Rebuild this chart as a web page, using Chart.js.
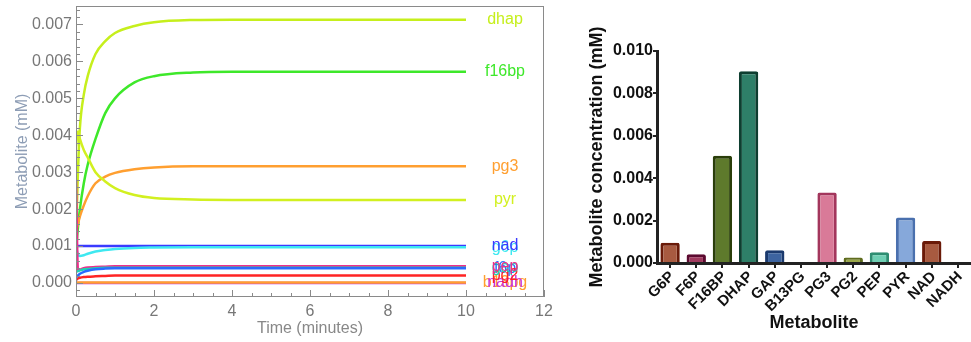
<!DOCTYPE html>
<html>
<head>
<meta charset="utf-8">
<script src="https://cdn.jsdelivr.net/npm/chart.js@4.4.1/dist/chart.umd.min.js"></script>
<style>
  body { margin: 0; background: #fff; }
  #wrap { display: flex; width: 971px; height: 342px; }
  canvas { display: block; }
</style>
</head>
<body>
<div id="wrap">
  <canvas id="timeChart" width="560" height="342"></canvas>
  <canvas id="barChart" width="411" height="342"></canvas>
</div>
<script>
// Time course (left)
const timeMin = [0, 0.05, 0.1, 0.2, 0.3, 0.5, 0.75, 1, 1.5, 2, 3, 4, 6, 8, 10];

const dhap  = [0.0012, 0.0030, 0.0042, 0.0051, 0.0056, 0.0062, 0.00655, 0.00677, 0.00696, 0.00706, 0.00712, 0.00713, 0.00713, 0.00713, 0.00713];
const f16bp = [0.0009, 0.0015, 0.0020, 0.0027, 0.0032, 0.0039, 0.0046, 0.0050, 0.00543, 0.0056, 0.0057, 0.00572, 0.00572, 0.00572, 0.00572];
const pg3   = [0.0014, 0.0016, 0.0018, 0.0021, 0.00235, 0.0027, 0.00288, 0.00298, 0.00308, 0.00313, 0.00316, 0.00316, 0.00316, 0.00316, 0.00316];
const pyr   = [0.0037, 0.0041, 0.0039, 0.0036, 0.0034, 0.0030, 0.00275, 0.00257, 0.00238, 0.0023, 0.00226, 0.00225, 0.00225, 0.00225, 0.00225];
const nad   = [0.001, 0.001, 0.001, 0.001, 0.001, 0.001, 0.001, 0.001, 0.001, 0.001, 0.001, 0.001, 0.001, 0.001, 0.001];
const g6p   = [0.00098, 0.00078, 0.00073, 0.00075, 0.00079, 0.00085, 0.00089, 0.00092, 0.00095, 0.00096, 0.00097, 0.00097, 0.00097, 0.00097, 0.00097];
const pep   = [0.0028, 0.00035, 0.00036, 0.0004, 0.00042, 0.00043, 0.00044, 0.00045, 0.00045, 0.00045, 0.00045, 0.00045, 0.00045, 0.00045, 0.00045];
const gap   = [0.0003, 0.00032, 0.00034, 0.00037, 0.00038, 0.0004, 0.00041, 0.00041, 0.00041, 0.00041, 0.00041, 0.00041, 0.00041, 0.00041, 0.00041];
const f6p   = [0.00015, 0.0002, 0.00025, 0.0003, 0.00033, 0.00037, 0.00039, 0.0004, 0.0004, 0.0004, 0.0004, 0.0004, 0.0004, 0.0004, 0.0004];
const pg2   = [0.00008, 0.00012, 0.00014, 0.00016, 0.00017, 0.00018, 0.00019, 0.0002, 0.0002, 0.0002, 0.0002, 0.0002, 0.0002, 0.0002, 0.0002];
const b13pg = [0.00001, 0.00001, 0.00001, 0.00001, 0.00001, 0.00001, 0.00001, 0.00001, 0.00001, 0.00001, 0.00001, 0.00001, 0.00001, 0.00001, 0.00001];
const nadh  = [0, 0, 0, 0, 0, 0, 0, 0, 0, 0, 0, 0, 0, 0, 0];

// Bar chart (right)
const metabolites = ['G6P', 'F6P', 'F16BP', 'DHAP', 'GAP', 'B13PG', 'PG3', 'PG2', 'PEP', 'PYR', 'NAD', 'NADH'];
const concentrations = [0.00095, 0.00041, 0.00506, 0.00904, 0.0006, 0, 0.00332, 0.00026, 0.00051, 0.00215, 0.00104, 0];
const barFill = ['#a85a40', '#a03a5e', '#5e7a2c', '#2e7f68', '#3d64a0', '#888888', '#d97a98', '#9aa84a', '#6fcfb4', '#86a8da', '#a85a40', '#888888'];
const barEdge = ['#6a1a08', '#5c0a30', '#2a3e0a', '#0e3e30', '#1b3a6e', '#444444', '#a3365c', '#5f6c1e', '#2e8e72', '#4a70ae', '#6a1a08', '#444444'];

Chart.defaults.font.family = '"Liberation Sans", Arial, sans-serif';

function series(name, values, color) {
  return {
    label: name,
    data: values.map((v, i) => ({ x: timeMin[i], y: v })),
    borderColor: color,
    borderWidth: 2.5,
    pointRadius: 0,
    cubicInterpolationMode: 'monotone',
    fill: false
  };
}

// frame with inward ticks + end labels, Mathematica style
const frameAndLabels = {
  id: 'frameAndLabels',
  afterDatasetsDraw(chart) {
    const { ctx, chartArea: a, scales: { x, y } } = chart;
    ctx.save();
    ctx.strokeStyle = '#8a8a8a';
    ctx.lineWidth = 1;
    ctx.strokeRect(a.left + 0.5, a.top + 0.5, a.right - a.left - 1, a.bottom - a.top - 1);
    ctx.beginPath();
    for (let i = 0; i <= 24; i++) {
      const px = Math.round(x.getPixelForValue(i * 0.5)) + 0.5;
      const len = i % 4 === 0 ? 7 : 4;
      ctx.moveTo(px, a.bottom);
      ctx.lineTo(px, a.bottom - len);
    }
    for (let i = -1; i <= 37; i++) {
      const py = Math.round(y.getPixelForValue(i * 0.0002)) + 0.5;
      const len = i % 5 === 0 ? 7 : 4;
      ctx.moveTo(a.left, py);
      ctx.lineTo(a.left + len, py);
    }
    ctx.stroke();

    ctx.font = '16px "Liberation Sans", Arial, sans-serif';
    ctx.textAlign = 'center';
    ctx.textBaseline = 'middle';
    chart.data.datasets.forEach(ds => {
      const last = ds.data[ds.data.length - 1];
      ctx.fillStyle = ds.borderColor;
      ctx.fillText(ds.label, x.getPixelForValue(11), y.getPixelForValue(last.y));
    });
    ctx.restore();
  }
};

new Chart(document.getElementById('timeChart'), {
  type: 'line',
  data: {
    datasets: [
      series('b13pg', b13pg, '#ff9f30'),
      series('nadh', nadh, '#c832e0'),
      series('f6p', f6p, '#2a6aff'),
      series('pg2', pg2, '#ff2424'),
      series('gap', gap, '#20d2b0'),
      series('pep', pep, '#ee2c8c'),
      series('g6p', g6p, '#3ee8f0'),
      series('nad', nad, '#3a3aff'),
      series('pyr', pyr, '#d2f020'),
      series('pg3', pg3, '#ff9f30'),
      series('f16bp', f16bp, '#3ee82a'),
      series('dhap', dhap, '#c6ef1c')
    ]
  },
  options: {
    responsive: false,
    animation: false,
    layout: { padding: { top: 6, right: 16, left: 0, bottom: 0 } },
    plugins: { legend: { display: false }, tooltip: { enabled: false } },
    scales: {
      x: {
        type: 'linear', min: 0, max: 12,
        afterFit: s => { s.height = 45; s.paddingLeft = 0; s.paddingRight = 0; },
        grid: { display: false, drawTicks: false },
        border: { display: false },
        ticks: { stepSize: 2, padding: 5, color: '#777', font: { size: 16 } },
        title: { display: true, text: 'Time (minutes)', color: '#888', font: { size: 16 }, padding: { top: 0, bottom: 4 } }
      },
      y: {
        min: -0.00038, max: 0.0075,
        afterFit: s => { s.width = 76; s.paddingTop = 0; s.paddingBottom = 0; },
        grid: { display: false, drawTicks: false },
        border: { display: false },
        ticks: { stepSize: 0.001, includeBounds: false, padding: 4, color: '#777', font: { size: 16 },
                 callback: v => v.toFixed(3) },
        title: { display: true, text: 'Metabolite (mM)', color: '#8d9db5', font: { size: 16 }, padding: { top: 13, bottom: 0 } }
      }
    }
  },
  plugins: [frameAndLabels]
});

new Chart(document.getElementById('barChart'), {
  type: 'bar',
  data: {
    labels: metabolites,
    datasets: [{
      data: concentrations,
      backgroundColor: barFill,
      borderColor: barEdge,
      borderWidth: 3,
      borderRadius: 2,
      barPercentage: 0.74,
      categoryPercentage: 1
    }]
  },
  options: {
    responsive: false,
    animation: false,
    layout: { padding: { top: 51, right: 0, left: 0, bottom: 0 } },
    plugins: { legend: { display: false }, tooltip: { enabled: false } },
    scales: {
      x: {
        afterFit: s => { s.height = 79; },
        grid: { drawOnChartArea: false, offset: false, tickLength: 5, color: '#222', lineWidth: 2 },
        border: { color: '#222', width: 3 },
        ticks: { autoSkip: false, minRotation: 45, maxRotation: 45, padding: 0, labelOffset: 2, color: '#111', font: { size: 15, weight: 'bold' } },
        title: { display: true, text: 'Metabolite', color: '#111', font: { size: 18, weight: 'bold' }, padding: { top: 0, bottom: 8 } }
      },
      y: {
        min: 0, max: 0.01,
        afterFit: s => { s.width = 97; },
        grid: { drawOnChartArea: false, tickLength: 4, color: '#222', lineWidth: 2 },
        border: { color: '#222', width: 3 },
        ticks: { stepSize: 0.002, padding: 0, color: '#111', font: { size: 16, weight: 'bold' },
                 callback: v => v.toFixed(3) },
        title: { display: true, text: 'Metabolite concentration (mM)', color: '#111', font: { size: 18, weight: 'bold' }, padding: { top: 26, bottom: 0 } }
      }
    }
  }
});
</script>
</body>
</html>
